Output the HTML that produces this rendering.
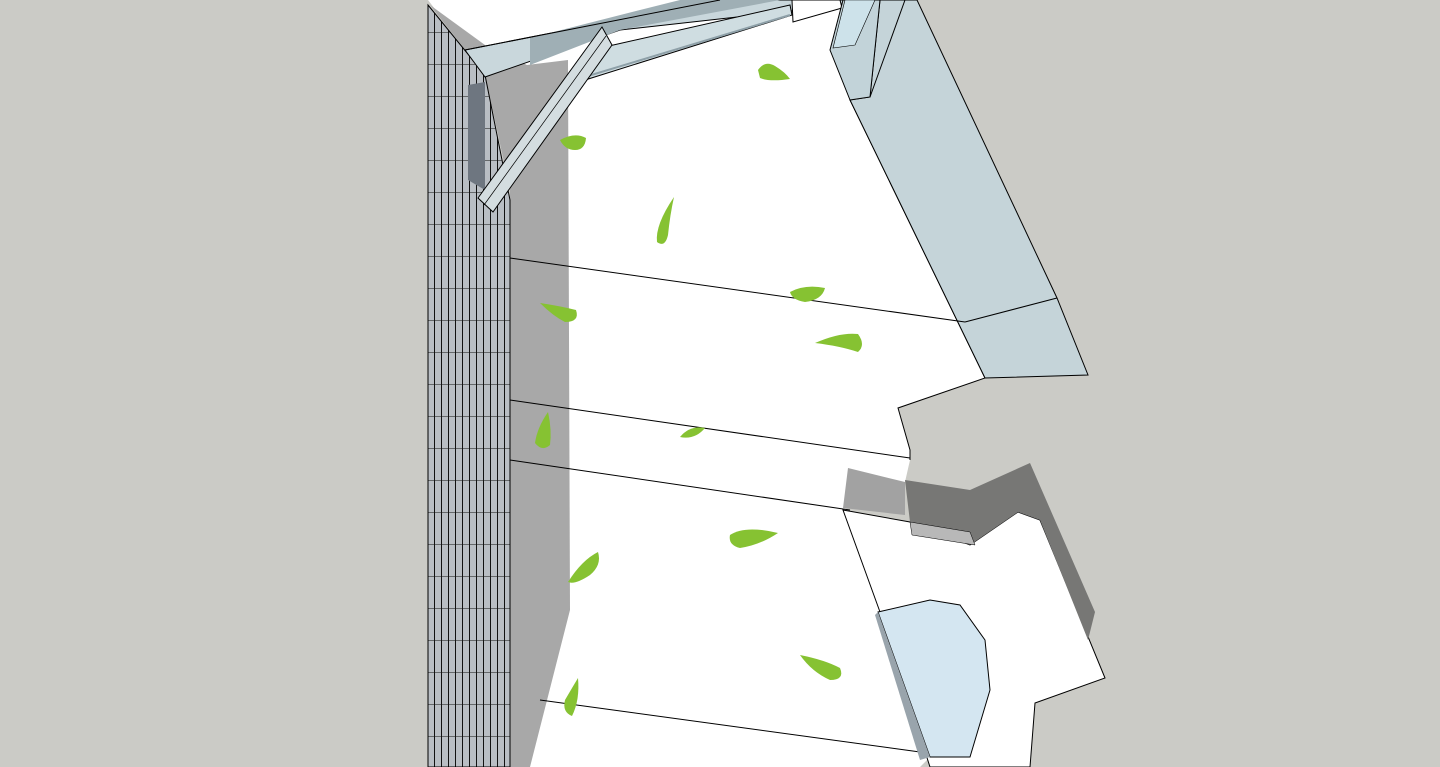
<!DOCTYPE html>
<html><head><meta charset="utf-8"><style>html,body{margin:0;padding:0;background:#cbcbc6;overflow:hidden}svg{display:block}</style></head>
<body>
<svg width="1440" height="767" viewBox="0 0 1440 767" xmlns="http://www.w3.org/2000/svg">
<defs>
<pattern id="grid" width="7" height="32" patternUnits="userSpaceOnUse">
<rect width="7" height="32" fill="#b9bec4"/>
<path d="M0 0H7M0.5 0V32" stroke="#111" stroke-width="1"/>
</pattern>
</defs>
<rect width="1440" height="767" fill="#cbcbc6"/>
<!-- white floor -->
<polygon points="428,0 848,0 830,50 850,100 985,378 898,408 910,450 910,460 905,482 843,510 880,612 930,757 920,767 530,767 510,700 510,190 485,75" fill="#fff"/>
<polyline points="850,100 985,378 898,408 910,450 910,460" fill="none" stroke="#000"/>
<!-- lower right white -->
<polygon points="843,510 910,522 970,545 1018,512 1040,520 1105,678 1035,703 1030,767 930,767 880,612" fill="#fff" stroke="#000" stroke-width="1"/>
<!-- grey shadow wall -->
<polygon points="430,5 485,45 527,65 568,60 570,610 530,767 510,767 510,190 485,75" fill="#a8a8a8"/>
<!-- grid wall -->
<polygon points="428,5 485,75 510,200 510,767 428,767" fill="url(#grid)" stroke="#000"/>
<polygon points="468,85 485,82 485,190 468,180" fill="#6e7680"/>
<!-- top beam -->
<polygon points="465,50 720,0 890,0 620,30 485,77" fill="#c9d7dc" stroke="#000"/>
<polygon points="530,38 640,10 680,0 780,0 620,30 530,65" fill="#9fafb5"/>
<line x1="465" y1="50" x2="720" y2="0" stroke="#000"/>
<!-- second beam -->
<polygon points="600,48 790,5 792,15 585,80" fill="#cfdde1" stroke="#000"/>
<line x1="588" y1="76" x2="790" y2="15" stroke="#8ea0a8" stroke-width="2"/>
<polygon points="792,0 840,0 842,8 793,22" fill="#fff" stroke="#000"/>
<!-- diagonal strut -->
<polygon points="478,198 602,27 612,45 493,212" fill="#d4dde0" stroke="#000"/>
<line x1="484" y1="205" x2="606" y2="36" stroke="#000" stroke-width="0.7"/>
<!-- right glass panel -->
<polygon points="880,0 917,0 1057,298 1088,375 985,378 850,100 870,97" fill="#c5d4d9" stroke="#000"/>
<line x1="965" y1="322" x2="1057" y2="298" stroke="#000"/>
<polygon points="843,0 880,0 870,97 850,100 830,50" fill="#c2d3d9" stroke="#000"/>
<polygon points="845,0 875,0 855,45 833,48" fill="#cde2ea" stroke="#000" stroke-width="0.6"/>
<line x1="905" y1="0" x2="870" y2="97" stroke="#000"/>
<!-- floor lines -->
<g stroke="#000" stroke-width="1">
<line x1="510" y1="258" x2="965" y2="322"/>
<line x1="510" y1="400" x2="910" y2="458"/>
<line x1="510" y1="460" x2="850" y2="510"/>
<line x1="540" y1="700" x2="920" y2="752"/>
</g>
<!-- dark shadows lower right -->
<polygon points="905,480 970,490 1030,463 1095,612 1088,640 1040,520 1018,512 970,545 910,522" fill="#777775"/>
<polygon points="848,468 905,482 905,515 843,508" fill="#a2a2a2"/>
<polygon points="910,522 970,532 975,545 912,535" fill="#b8b8b8" stroke="#000" stroke-width="0.5"/>
<!-- blue shape -->
<polygon points="878,612 930,600 960,605 985,640 990,690 970,757 930,757" fill="#d4e6f1" stroke="#000"/>
<polygon points="878,612 930,757 920,760 875,615" fill="#99a4ac"/>
<!-- leaves -->
<g fill="#86c232">
<path d="M758,70 Q765,60 775,66 Q785,72 790,79 Q770,82 760,78 Z"/>
<path d="M560,140 Q575,132 586,138 Q585,150 575,150 Q565,150 560,140 Z"/>
<path d="M674,197 Q670,215 668,235 Q665,248 657,242 Q655,225 674,197 Z"/>
<path d="M790,292 Q805,284 825,288 Q822,300 805,302 Q792,300 790,292 Z"/>
<path d="M540,303 Q560,306 576,310 Q580,322 565,322 Q553,316 540,303 Z"/>
<path d="M815,343 Q840,332 858,334 Q866,345 858,352 Q840,346 815,343 Z"/>
<path d="M548,412 Q552,430 550,445 Q542,452 535,443 Q537,428 548,412 Z"/>
<path d="M680,437 Q690,425 705,428 Q695,440 680,437 Z"/>
<path d="M730,535 Q745,525 778,533 Q760,545 740,548 Q728,545 730,535 Z"/>
<path d="M598,552 Q602,565 590,575 Q575,585 568,582 Q582,560 598,552 Z"/>
<path d="M800,655 Q825,660 840,668 Q845,680 830,680 Q812,672 800,655 Z"/>
<path d="M578,678 Q580,700 572,716 Q562,712 565,700 Q572,688 578,678 Z"/>
</g>
</svg>
</body></html>
